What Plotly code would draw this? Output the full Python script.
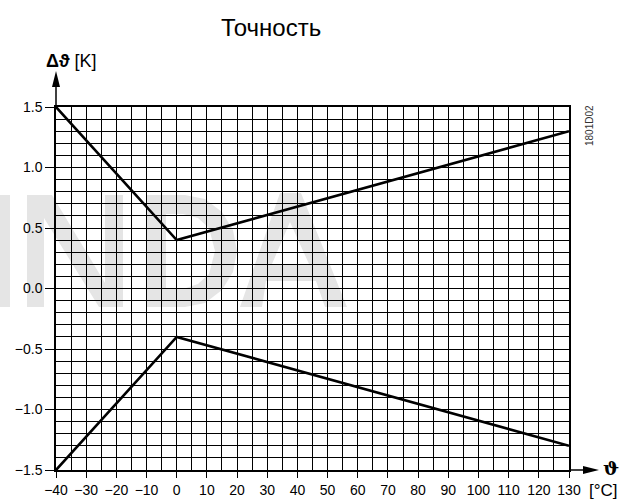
import plotly.graph_objects as go

# ---- data ----
temp_upper = [-40, 0, 130]
dev_upper = [1.5, 0.4, 1.3]
temp_lower = [-40, 0, 130]
dev_lower = [-1.5, -0.4, -1.3]
x_ticks = list(range(-40, 131, 10))
x_minor = list(range(-35, 130, 10))
y_ticks = [-1.5, -1.0, -0.5, 0.0, 0.5, 1.0, 1.5]
y_tick_labels = ["\u22121.5", "\u22121.0", "\u22120.5", "0.0", "0.5", "1.0", "1.5"]
y_minor = [round(-1.5 + 0.1 * i, 1) for i in range(31)]

W, H = 630, 500
L, R, T, B = 56, 569, 107, 470  # plot area in pixels


def px(x):
    return (x - L) / (R - L)


def py(y):
    return (B - y) / (B - T)


def path(points, close=True):
    s = "M " + " L ".join(f"{px(a):.5f},{py(b):.5f}" for a, b in points)
    return s + (" Z" if close else "")


FONT = "Liberation Sans, Arial, sans-serif"
fig = go.Figure()
for xs, ys in [(temp_upper, dev_upper), (temp_lower, dev_lower)]:
    fig.add_trace(go.Scatter(x=xs, y=ys, mode="lines",
                             line=dict(color="black", width=2.6),
                             showlegend=False, hoverinfo="skip"))

shapes = []
wm = "#e5e5e5"
# watermark (light grey letters)
wm_polys = [
    [(0, 195), (10, 195), (10, 307), (0, 307)],
    [(27, 195), (52, 195), (105, 283), (105, 195), (123, 195), (123, 307),
     (99, 307), (44, 218), (44, 307), (27, 307)],
    [(147, 195), (185, 195), (205, 199), (222, 212), (233, 230), (237, 251),
     (233, 272), (222, 290), (205, 303), (185, 307), (147, 307)],
    [(240, 307), (280, 193), (301, 193), (347, 307), (325, 307), (316, 281),
     (266, 281), (262, 307)],
]
for poly in wm_polys:
    shapes.append(dict(type="path", path=path(poly), xref="paper", yref="paper",
                       fillcolor=wm, line=dict(width=0), layer="below"))
# holes in D and A
shapes.append(dict(type="path",
                   path=path([(166, 214), (183, 214), (198, 218), (209, 228),
                              (215, 251), (209, 274), (198, 284), (183, 289),
                              (166, 289)]),
                   xref="paper", yref="paper", fillcolor="white",
                   line=dict(width=0), layer="below"))
shapes.append(dict(type="path",
                   path=path([(290, 222), (309, 264), (272, 264)]),
                   xref="paper", yref="paper", fillcolor="white",
                   line=dict(width=0), layer="below"))

# axis arrows
shapes.append(dict(type="line", xref="paper", yref="paper",
                   x0=px(56), y0=py(107), x1=px(56), y1=py(86),
                   line=dict(color="black", width=1.5)))
shapes.append(dict(type="path", xref="paper", yref="paper",
                   path=path([(52, 87), (60, 87), (56, 71)]),
                   fillcolor="black", line=dict(width=0)))
shapes.append(dict(type="line", xref="paper", yref="paper",
                   x0=px(569), y0=py(470), x1=px(585), y1=py(470),
                   line=dict(color="black", width=1.5)))
shapes.append(dict(type="path", xref="paper", yref="paper",
                   path=path([(583, 466), (583, 474), (599, 470)]),
                   fillcolor="black", line=dict(width=0)))

annotations = [
    dict(text="Точность", x=px(271), y=py(28), xref="paper", yref="paper",
         showarrow=False, font=dict(family=FONT, size=24, color="black"),
         xanchor="center", yanchor="middle"),
    dict(text="<b>\u0394\u03d1</b> [K]", x=px(44), y=py(61), xref="paper", yref="paper",
         showarrow=False, font=dict(family=FONT, size=18, color="black"),
         xanchor="left", yanchor="middle"),
    dict(text="<b>\u03d1</b>", x=px(611), y=py(468), xref="paper", yref="paper",
         showarrow=False, font=dict(family="DejaVu Serif, serif", size=19, color="black"),
         xanchor="center", yanchor="middle"),
    dict(text="[°C]", x=px(603), y=py(490), xref="paper", yref="paper",
         showarrow=False, font=dict(family=FONT, size=17, color="black"),
         xanchor="center", yanchor="middle"),
    dict(text="1801D02", x=px(590), y=py(126), xref="paper", yref="paper",
         showarrow=False, textangle=-90,
         font=dict(family=FONT, size=10, color="#333333"),
         xanchor="center", yanchor="middle"),
]

fig.update_layout(
    width=W, height=H, autosize=False,
    margin=dict(l=L, r=W - R, t=T, b=H - B, pad=0, autoexpand=False),
    paper_bgcolor="white", plot_bgcolor="rgba(0,0,0,0)",
    showlegend=False,
    shapes=shapes, annotations=annotations,
    font=dict(family=FONT, size=14, color="black"),
)
fig.update_xaxes(
    range=[-40, 130], tickvals=x_ticks, ticktext=[str(v).replace("-", "\u2212") for v in x_ticks],
    showgrid=True, gridcolor="black", gridwidth=1.3,
    minor=dict(tickvals=x_minor, showgrid=True, gridcolor="black", gridwidth=1.3, ticks=""),
    ticks="outside", ticklen=6, tickwidth=1.3, tickcolor="black",
    showline=True, linecolor="black", linewidth=1.5, mirror=True,
    zeroline=False, tickfont=dict(size=14), automargin=False,
)
fig.update_yaxes(
    range=[-1.5, 1.5], tickvals=y_ticks, ticktext=y_tick_labels,
    showgrid=True, gridcolor="black", gridwidth=1.3,
    minor=dict(tickvals=y_minor, showgrid=True, gridcolor="black", gridwidth=1.3, ticks=""),
    ticks="outside", ticklen=9, tickwidth=1.3, tickcolor="black",
    showline=True, linecolor="black", linewidth=1.5, mirror=True,
    zeroline=False, tickfont=dict(size=14), automargin=False,
)

post = ("document.body.style.margin='0px';document.body.style.padding='0px';"
        "document.documentElement.style.overflow='hidden';")
fig.write_html("out.html", config={"responsive": False, "displayModeBar": False},
               post_script=post)
